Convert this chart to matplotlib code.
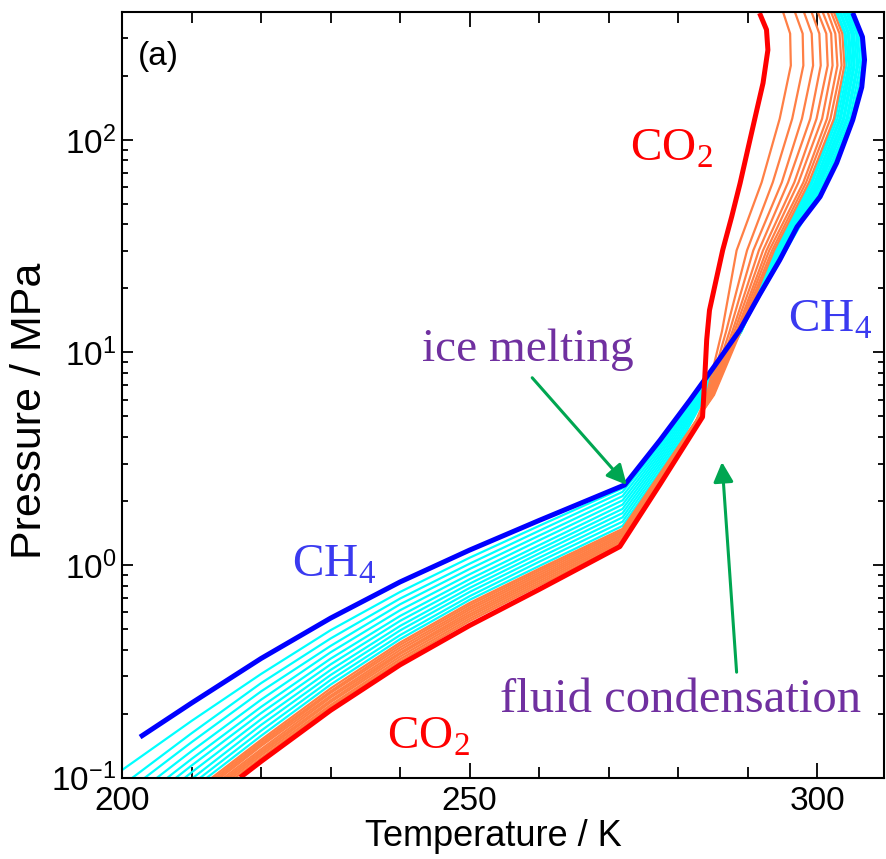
import numpy as np
import matplotlib
matplotlib.use("Agg")
import matplotlib.pyplot as plt
from matplotlib.ticker import FixedLocator, FixedFormatter, MultipleLocator, NullFormatter

plt.rcParams['font.family'] = ['Liberation Sans', 'DejaVu Sans']
plt.rcParams['mathtext.fontset'] = 'custom'
plt.rcParams['mathtext.rm'] = 'Liberation Serif'
plt.rcParams['mathtext.sf'] = 'Liberation Sans'

# pure CH4 hydrate curve (T / K, P / MPa)
ch4_T = [202.6, 210.0, 220.0, 230.0, 240.0, 250.0, 260.0, 272.3, 277.4, 281.7,
         285.3, 288.9, 291.7, 294.6, 297.1, 300.4, 302.8, 305.1, 306.4, 306.8,
         306.5, 305.1]
ch4_P = [0.155, 0.224, 0.363, 0.562, 0.832, 1.175, 1.62, 2.38, 3.87, 5.97,
         8.7, 12.8, 18.7, 27.2, 39.0, 54.0, 78.0, 124.0, 177.0, 238.0,
         305.0, 396.0]

# pure CO2 hydrate curve
co2_T = [217.0, 220.0, 230.0, 240.0, 250.0, 260.0, 271.6, 277.4, 283.5, 283.8,
         284.1, 284.5, 285.3, 286.4, 287.7, 288.9, 290.1, 291.3, 292.2, 292.9,
         292.7, 291.7]
co2_P = [0.1, 0.119, 0.207, 0.339, 0.519, 0.767, 1.22, 2.40, 4.97, 7.4,
         11.5, 15.8, 20.8, 30.3, 43.6, 62.5, 93.0, 138.0, 185.0, 265.0,
         330.0, 395.0]

# mixtures: log10(P) at fixed temperatures below ice melting
T_LOW = [200, 210, 220, 230, 240, 250, 260, 272]
# mixtures: temperature at fixed log10(P) above ice melting
LOGP_HIGH = [0.6, 0.8, 1.1, 1.48, 1.8, 2.1, 2.35, 2.5, 2.6]

cyan_logp_low = [
    [-0.965, -0.734, -0.513, -0.307, -0.127, 0.034, 0.184, 0.361],
    [-1.038, -0.792, -0.556, -0.346, -0.158, 0.006, 0.161, 0.344],
    [-1.083, -0.834, -0.595, -0.381, -0.185, -0.019, 0.138, 0.324],
    [-1.128, -0.876, -0.634, -0.411, -0.213, -0.044, 0.116, 0.304],
    [-1.167, -0.913, -0.668, -0.441, -0.240, -0.067, 0.093, 0.284],
    [-1.200, -0.944, -0.697, -0.468, -0.263, -0.088, 0.073, 0.264],
    [-1.240, -0.976, -0.726, -0.494, -0.287, -0.108, 0.054, 0.244],
    [-1.268, -1.007, -0.753, -0.518, -0.308, -0.127, 0.034, 0.224],
    [-1.290, -1.033, -0.780, -0.541, -0.330, -0.147, 0.015, 0.204],
    [-1.312, -1.057, -0.804, -0.563, -0.349, -0.164, -0.005, 0.184],
]
cyan_T_high = [
    [278.0, 282.3, 288.85, 295.5, 301.1, 305.0, 306.5, 306.1, 304.9],
    [278.3, 282.5, 288.9, 295.3, 300.9, 304.7, 306.2, 305.8, 304.6],
    [278.6, 282.7, 288.95, 295.1, 300.6, 304.4, 305.9, 305.6, 304.4],
    [278.9, 282.9, 289.0, 295.0, 300.4, 304.2, 305.7, 305.3, 304.2],
    [279.2, 283.1, 289.0, 294.8, 300.2, 303.9, 305.4, 305.1, 303.9],
    [279.5, 283.3, 289.05, 294.6, 300.0, 303.7, 305.2, 304.9, 303.7],
    [279.8, 283.5, 289.1, 294.4, 299.75, 303.4, 304.95, 304.6, 303.4],
    [280.1, 283.6, 289.1, 294.3, 299.6, 303.2, 304.7, 304.4, 303.2],
    [280.4, 283.8, 289.1, 294.1, 299.3, 302.9, 304.5, 304.1, 302.9],
    [280.7, 284.0, 289.1, 293.9, 299.1, 302.6, 304.2, 303.9, 302.7],
]

orange_logp_low = [
    [-1.329, -1.075, -0.823, -0.581, -0.365, -0.179, -0.018, 0.170],
    [-1.340, -1.086, -0.833, -0.594, -0.376, -0.189, -0.027, 0.161],
    [-1.352, -1.096, -0.843, -0.602, -0.388, -0.200, -0.037, 0.153],
    [-1.363, -1.107, -0.852, -0.615, -0.400, -0.210, -0.047, 0.144],
    [-1.374, -1.117, -0.867, -0.624, -0.412, -0.221, -0.057, 0.136],
    [-1.385, -1.128, -0.877, -0.637, -0.419, -0.232, -0.066, 0.127],
    [-1.396, -1.138, -0.886, -0.646, -0.431, -0.242, -0.076, 0.118],
    [-1.408, -1.149, -0.896, -0.659, -0.443, -0.253, -0.086, 0.110],
    [-1.419, -1.159, -0.908, -0.668, -0.454, -0.264, -0.096, 0.101],
]
orange_T_high = [
    [280.9, 285.15, 289.0, 293.8, 298.8, 302.4, 303.9, 303.6, 302.4],
    [281.0, 285.05, 288.8, 293.5, 298.4, 301.9, 303.5, 303.2, 302.0],
    [281.1, 284.95, 288.6, 293.1, 298.0, 301.4, 302.9, 302.6, 301.5],
    [281.2, 284.85, 288.4, 292.7, 297.3, 300.7, 302.2, 302.0, 300.8],
    [281.3, 284.75, 288.1, 292.2, 296.7, 299.9, 301.5, 301.3, 300.1],
    [281.4, 284.6, 287.8, 291.6, 295.8, 299.0, 300.5, 300.3, 299.2],
    [281.5, 284.45, 287.4, 290.8, 294.9, 297.8, 299.4, 299.2, 298.1],
    [281.55, 284.3, 286.9, 289.9, 293.6, 296.4, 298.0, 297.9, 296.8],
    [281.6, 284.1, 286.3, 288.4, 292.0, 294.6, 296.2, 296.1, 295.1],
]

BLUE = '#0000ff'
RED = '#ff0000'
CYAN = '#00ffff'
ORANGE = '#ff7f45'
GREEN = '#00a651'
PURPLE = '#7030a0'


def mixture_curve(logp_low, t_high):
    T = list(T_LOW) + list(t_high)
    P = 10.0 ** np.array(list(logp_low) + list(LOGP_HIGH))
    return T, P


fig = plt.figure(figsize=(8.86, 8.59), dpi=100)
ax = fig.add_axes([122 / 886, 1 - 777.5 / 859, 762 / 886, 765.8 / 859])

for lp, th in zip(cyan_logp_low, cyan_T_high):
    T, P = mixture_curve(lp, th)
    ax.plot(T, P, color=CYAN, lw=1.6, solid_joinstyle='round')
for lp, th in zip(orange_logp_low, orange_T_high):
    T, P = mixture_curve(lp, th)
    ax.plot(T, P, color=ORANGE, lw=1.6, solid_joinstyle='round')

ax.plot(ch4_T, ch4_P, color=BLUE, lw=3.6, solid_capstyle='butt', solid_joinstyle='round')
ax.plot(co2_T, co2_P, color=RED, lw=3.6, solid_capstyle='butt', solid_joinstyle='round')

ax.set_yscale('log')
ax.set_xlim(200, 309.6)
ax.set_ylim(0.1, 401)

ax.xaxis.set_major_locator(FixedLocator([200, 250, 300]))
ax.xaxis.set_minor_locator(MultipleLocator(10))
ax.yaxis.set_major_locator(FixedLocator([0.1, 1, 10, 100]))
ax.yaxis.set_major_formatter(FixedFormatter([r'$\mathsf{10^{-1}}$', r'$\mathsf{10^{0}}$',
                                             r'$\mathsf{10^{1}}$', r'$\mathsf{10^{2}}$']))
ax.yaxis.set_minor_locator(FixedLocator([m * 10.0 ** e for e in range(-1, 3) for m in range(2, 10)]))
ax.yaxis.set_minor_formatter(NullFormatter())

ax.tick_params(which='both', direction='in', top=True, right=True, width=1.3, labelsize=24, colors='black')
ax.tick_params(axis='x', which='major', length=11, pad=6)
ax.tick_params(axis='x', which='minor', length=8)
ax.tick_params(axis='y', which='major', length=8, pad=4)
ax.tick_params(axis='y', which='minor', length=4.5)
for s in ax.spines.values():
    s.set_linewidth(1.5)

ax.set_xlabel('Temperature / K', fontsize=26)
ax.set_ylabel('Pressure / MPa', fontsize=31)
ax.xaxis.set_label_coords(0.488, -0.054)
ax.yaxis.set_label_coords(-0.095, 0.479)

ax.text(0.021, 0.941, '(a)', transform=ax.transAxes, fontsize=24, ha='left', va='center')

serif = dict(family=['Liberation Serif', 'DejaVu Serif'], fontsize=34)
ax.text(273.0, 90, r'CO$_\mathrm{2}$', color=RED, ha='left', va='center', **serif)
ax.text(238.1, 0.155, r'CO$_\mathrm{2}$', color=RED, ha='left', va='center', **serif)
ax.text(224.4, 1.0, r'CH$_\mathrm{4}$', color='#3a3af0', ha='left', va='center', **serif)
ax.text(295.8, 14.2, r'CH$_\mathrm{4}$', color='#3a3af0', ha='left', va='center', **serif)
ax.text(243.1, 10.3, 'ice melting', color=PURPLE, ha='left', va='center', **serif)
ax.text(254.3, 0.232, 'fluid condensation', color=PURPLE, ha='left', va='center',
        family=['Liberation Serif', 'DejaVu Serif'], fontsize=35)

arrow = dict(arrowstyle='-|>', color=GREEN, lw=2.2, mutation_scale=30, shrinkA=0, shrinkB=0)
ax.annotate('', xy=(272.6, 2.38), xytext=(259.0, 7.6), arrowprops=arrow)
ax.annotate('', xy=(286.3, 3.05), xytext=(288.4, 0.313), arrowprops=arrow)

fig.savefig('out.png', dpi=100)
